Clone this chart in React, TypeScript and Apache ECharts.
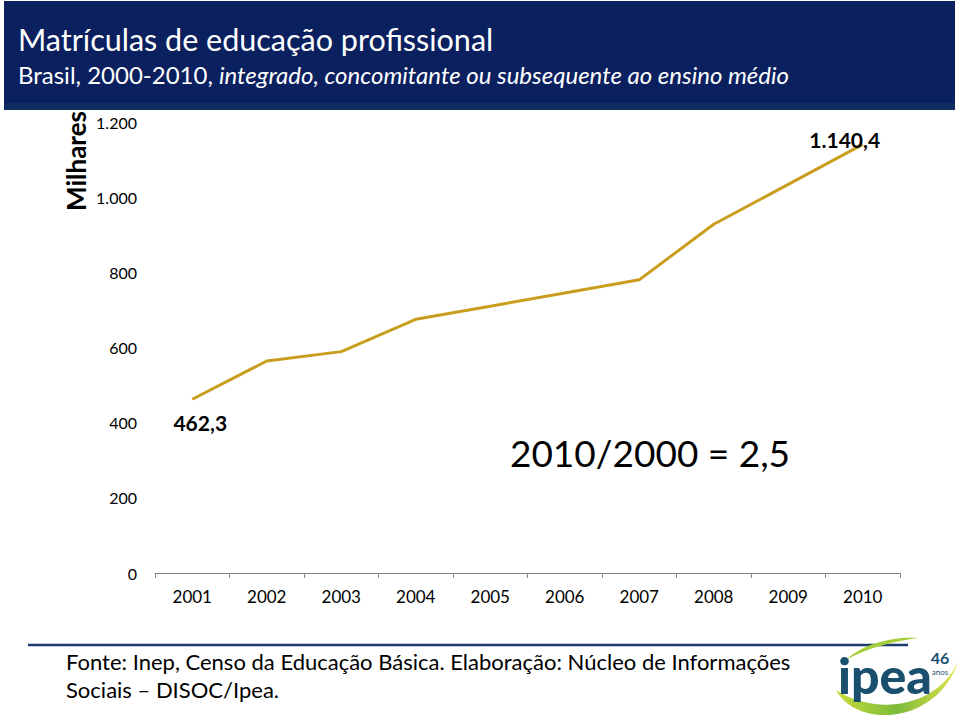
import React, { useEffect, useRef } from "react";
import * as echarts from "echarts";

const years = ["2001", "2002", "2003", "2004", "2005", "2006", "2007", "2008", "2009", "2010"];
const matriculas = [462.3, 564, 589, 675, 710, 745, 780, 928, 1034, 1140.4];
const labelledIdx = [0, 9];
const yMin = 0;
const yMax = 1200;
const yStep = 200;

const FONT = "Lato, 'Liberation Sans', sans-serif";

function fmtInt(v: number): string {
  const s = Math.round(v).toString();
  return s.replace(/\B(?=(\d{3})+(?!\d))/g, ".");
}
function fmtDec(v: number): string {
  const intPart = Math.floor(v);
  const dec = Math.round((v - intPart) * 10);
  return fmtInt(intPart) + "," + dec;
}

echarts.graphic.registerShape(
  "swoosh",
  echarts.graphic.extendPath(
    "M 0 40 C 20 78 100 76 122 12 C 100 58 40 66 0 40 Z",
    {}
  ) as any
);
echarts.graphic.registerShape(
  "swoosh2",
  echarts.graphic.extendPath("M 0 24 C 18 6 52 0 72 2 C 50 5 20 12 0 24 Z", {}) as any
);

export default function App() {
  const ref = useRef<HTMLDivElement>(null);
  useEffect(() => {
    if (!ref.current) return;
    const chart = echarts.init(ref.current, undefined, { renderer: "svg" });
    const data = matriculas.map((v, i) => {
      if (!labelledIdx.includes(i)) return v;
      const first = i === 0;
      return {
        value: v,
        label: {
          show: true,
          position: "inside",
          offset: first ? [8, 23] : [-18, -5],
          formatter: (p: any) => fmtDec(p.value),
          fontSize: 21,
          fontWeight: "bold",
          color: "#000",
          fontFamily: FONT,
        },
      };
    });
    chart.setOption({
      animation: false,
      backgroundColor: "#ffffff",
      grid: { left: 155, right: 60, top: 122, bottom: 143, containLabel: false },
      xAxis: {
        type: "category",
        data: years,
        boundaryGap: true,
        axisLine: { lineStyle: { color: "#868686", width: 1 } },
        axisTick: { show: true, length: 5, lineStyle: { color: "#868686" } },
        axisLabel: { color: "#000", fontSize: 17, margin: 15, fontFamily: FONT },
        splitLine: { show: false },
      },
      yAxis: {
        type: "value",
        min: yMin,
        max: yMax,
        interval: yStep,
        axisLine: { show: false },
        axisTick: { show: false },
        splitLine: { show: false },
        axisLabel: {
          color: "#000",
          fontSize: 16,
          margin: 18,
          fontFamily: FONT,
          formatter: (v: number) => fmtInt(v),
        },
      },
      series: [
        {
          type: "line",
          data,
          symbol: "circle",
          symbolSize: 0.1,
          showSymbol: true,
          lineStyle: { color: "#C99E1F", width: 3 },
          itemStyle: { color: "#C99E1F" },
        },
      ],
      graphic: [
        { type: "rect", shape: { x: 4, y: 1, width: 951, height: 103 }, style: { fill: "#0B205E" } },
        { type: "rect", shape: { x: 4, y: 103, width: 951, height: 7 }, style: { fill: "#0F2D60" } },
        {
          type: "text",
          x: 18,
          y: 39,
          style: {
            text: "Matrículas de educação profissional",
            fill: "#ffffff",
            font: `30.5px ${FONT}`,
            verticalAlign: "middle",
          },
        },
        {
          type: "text",
          x: 18,
          y: 74,
          style: {
            text: "{n|Brasil, 2000-2010, }{i|integrado, concomitante ou subsequente ao ensino médio}",
            fill: "#ffffff",
            verticalAlign: "middle",
            rich: {
              n: { fontSize: 24, fontFamily: FONT, color: "#ffffff" },
              i: { fontSize: 24, fontFamily: FONT, fontStyle: "italic", color: "#ffffff" },
            },
          },
        },
        {
          type: "text",
          x: 76,
          y: 161,
          rotation: Math.PI / 2,
          style: {
            text: "Milhares",
            fill: "#000",
            font: `bold 26px ${FONT}`,
            align: "center",
            verticalAlign: "middle",
          },
        },
        {
          type: "text",
          x: 650,
          y: 452,
          style: {
            text: "2010/2000 = 2,5",
            fill: "#000",
            font: `37px ${FONT}`,
            align: "center",
            verticalAlign: "middle",
          },
        },
        {
          type: "line",
          shape: { x1: 28, y1: 645, x2: 908, y2: 645 },
          style: { stroke: "#1F3A6E", lineWidth: 2.5 },
        },
        {
          type: "text",
          x: 66,
          y: 661,
          style: {
            text: "Fonte: Inep, Censo da Educação Básica. Elaboração: Núcleo de Informações",
            fill: "#000",
            font: `22px ${FONT}`,
            verticalAlign: "middle",
          },
        },
        {
          type: "text",
          x: 66,
          y: 689,
          style: {
            text: "Sociais – DISOC/Ipea.",
            fill: "#000",
            font: `22px ${FONT}`,
            verticalAlign: "middle",
          },
        },
        {
          type: "swoosh",
          x: 836,
          y: 650,
          style: {
            fill: new echarts.graphic.LinearGradient(0, 0, 1, 0, [
              { offset: 0, color: "#C8DC3C" },
              { offset: 0.5, color: "#7DBB3A" },
              { offset: 1, color: "#E2E24A" },
            ]),
          },
        },
        {
          type: "swoosh2",
          x: 846,
          y: 636,
          style: { fill: "#A6CE39" },
        },
        {
          type: "text",
          x: 838,
          y: 675,
          style: {
            text: "ipea",
            fill: "#1B4F6E",
            font: `900 50px ${FONT}`,
            verticalAlign: "middle",
          },
        },
        {
          type: "text",
          x: 940,
          y: 657,
          style: { text: "46", fill: "#1B4F6E", font: `bold 16px ${FONT}`, align: "center", verticalAlign: "middle" },
        },
        {
          type: "text",
          x: 940,
          y: 672,
          style: { text: "anos", fill: "#1B4F6E", font: `8px ${FONT}`, align: "center", verticalAlign: "middle" },
        },
      ],
    });
    return () => chart.dispose();
  }, []);
  return <div ref={ref} style={{ position: "absolute", left: 0, top: 0, width: 960, height: 716 }} />;
}
